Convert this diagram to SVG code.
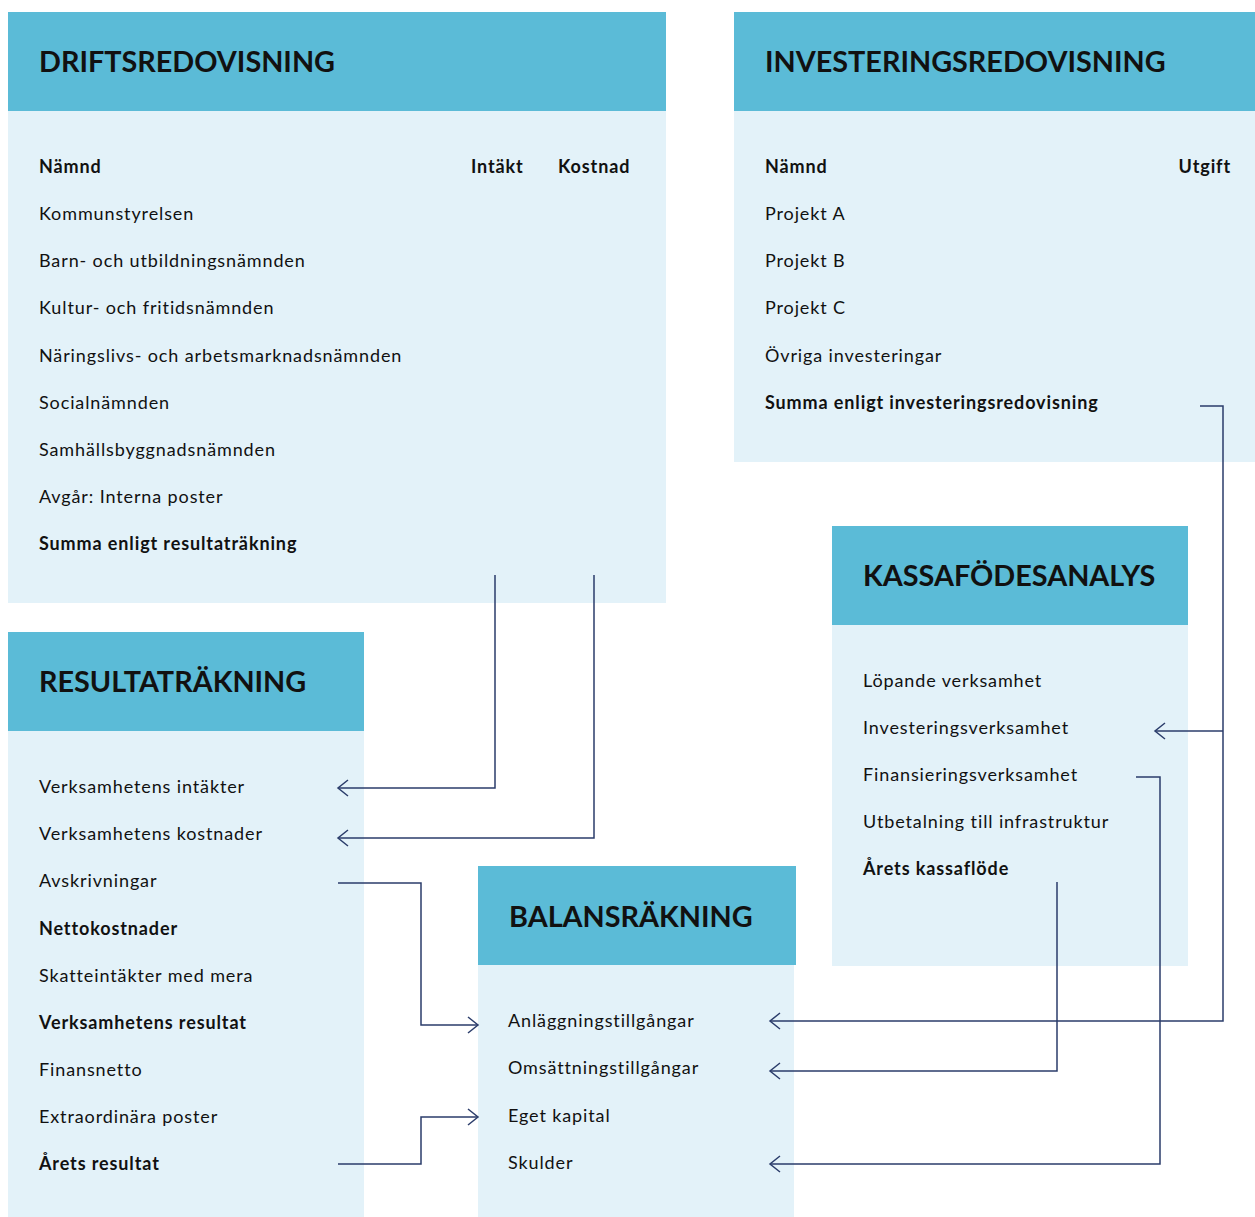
<svg xmlns="http://www.w3.org/2000/svg" width="1255" height="1217" viewBox="0 0 1255 1217">
<defs>
<style>
.hd{fill:#5bbbd7}
.bd{fill:#e3f2f9}
.t{font-family:Lato,"Noto Sans",sans-serif;font-size:18px;fill:#111;letter-spacing:0.88px}
.b{font-weight:bold}
.h{font-family:Lato,"Noto Sans",sans-serif;font-size:28.8px;font-weight:bold;fill:#111}
.c{fill:none;stroke:#2b3d6b;stroke-width:1.5}
</style>
<marker id="ar" markerUnits="userSpaceOnUse" markerWidth="24" markerHeight="24" viewBox="-12 -12 24 24" refX="0" refY="0" orient="auto">
<path d="M-10,-8 L0,0 L-10,8" fill="none" stroke="#2b3d6b" stroke-width="1.5"/>
</marker>
</defs>
<rect width="1255" height="1217" fill="#fff"/>
<g id="driftsredovisning">
<rect class="bd" x="8" y="111" width="658" height="492"/>
<rect class="hd" x="8" y="12" width="658" height="99"/>
<text class="h" x="39" y="72">DRIFTSREDOVISNING</text>
<text class="t b" x="39" y="173">Nämnd</text>
<text class="t b" x="471" y="173">Intäkt</text>
<text class="t b" x="558" y="173">Kostnad</text>
<text class="t" x="39" y="220">Kommunstyrelsen</text>
<text class="t" x="39" y="267">Barn- och utbildningsnämnden</text>
<text class="t" x="39" y="314">Kultur- och fritidsnämnden</text>
<text class="t" x="39" y="362">Näringslivs- och arbetsmarknadsnämnden</text>
<text class="t" x="39" y="409">Socialnämnden</text>
<text class="t" x="39" y="456">Samhällsbyggnadsnämnden</text>
<text class="t" x="39" y="503">Avgår: Interna poster</text>
<text class="t b" x="39" y="550">Summa enligt resultaträkning</text>
</g>
<g id="investeringsredovisning">
<rect class="bd" x="734" y="111" width="521" height="351"/>
<rect class="hd" x="734" y="12" width="521" height="99"/>
<text class="h" x="765" y="72">INVESTERINGSREDOVISNING</text>
<text class="t b" x="765" y="173">Nämnd</text>
<text class="t b" x="1231" y="173" text-anchor="end">Utgift</text>
<text class="t" x="765" y="220">Projekt A</text>
<text class="t" x="765" y="267">Projekt B</text>
<text class="t" x="765" y="314">Projekt C</text>
<text class="t" x="765" y="362">Övriga investeringar</text>
<text class="t b" x="765" y="409">Summa enligt investeringsredovisning</text>
</g>
<g id="kassaflodesanalys">
<rect class="bd" x="832" y="625" width="356" height="341"/>
<rect class="hd" x="832" y="526" width="356" height="99"/>
<text class="h" x="863" y="586">KASSAFÖDESANALYS</text>
<text class="t" x="863" y="687">Löpande verksamhet</text>
<text class="t" x="863" y="734">Investeringsverksamhet</text>
<text class="t" x="863" y="781">Finansieringsverksamhet</text>
<text class="t" x="863" y="828">Utbetalning till infrastruktur</text>
<text class="t b" x="863" y="875">Årets kassaflöde</text>
</g>
<g id="resultatrakning">
<rect class="bd" x="8" y="731" width="356" height="486"/>
<rect class="hd" x="8" y="632" width="356" height="99"/>
<text class="h" x="39" y="692">RESULTATRÄKNING</text>
<text class="t" x="39" y="793">Verksamhetens intäkter</text>
<text class="t" x="39" y="840">Verksamhetens kostnader</text>
<text class="t" x="39" y="887">Avskrivningar</text>
<text class="t b" x="39" y="935">Nettokostnader</text>
<text class="t" x="39" y="982">Skatteintäkter med mera</text>
<text class="t b" x="39" y="1029">Verksamhetens resultat</text>
<text class="t" x="39" y="1076">Finansnetto</text>
<text class="t" x="39" y="1123">Extraordinära poster</text>
<text class="t b" x="39" y="1170">Årets resultat</text>
</g>
<g id="balansrakning">
<rect class="bd" x="478" y="965" width="316" height="252"/>
<rect class="hd" x="478" y="866" width="318" height="99"/>
<text class="h" x="509" y="927">BALANSRÄKNING</text>
<text class="t" x="508" y="1027">Anläggningstillgångar</text>
<text class="t" x="508" y="1074">Omsättningstillgångar</text>
<text class="t" x="508" y="1122">Eget kapital</text>
<text class="t" x="508" y="1169">Skulder</text>
</g>
<g id="connectors">
<polyline class="c" points="495,575 495,788 338,788" marker-end="url(#ar)"/>
<polyline class="c" points="594,575 594,838 338,838" marker-end="url(#ar)"/>
<polyline class="c" points="338,883 421,883 421,1025 478,1025" marker-end="url(#ar)"/>
<polyline class="c" points="338,1164 421,1164 421,1117 478,1117" marker-end="url(#ar)"/>
<polyline class="c" points="1200,406 1223,406 1223,1021 770,1021" marker-end="url(#ar)"/>
<polyline class="c" points="1223,731 1155,731" marker-end="url(#ar)"/>
<polyline class="c" points="1057,882 1057,1071 770,1071" marker-end="url(#ar)"/>
<polyline class="c" points="1136,777 1160,777 1160,1164 770,1164" marker-end="url(#ar)"/>
</g>
</svg>
